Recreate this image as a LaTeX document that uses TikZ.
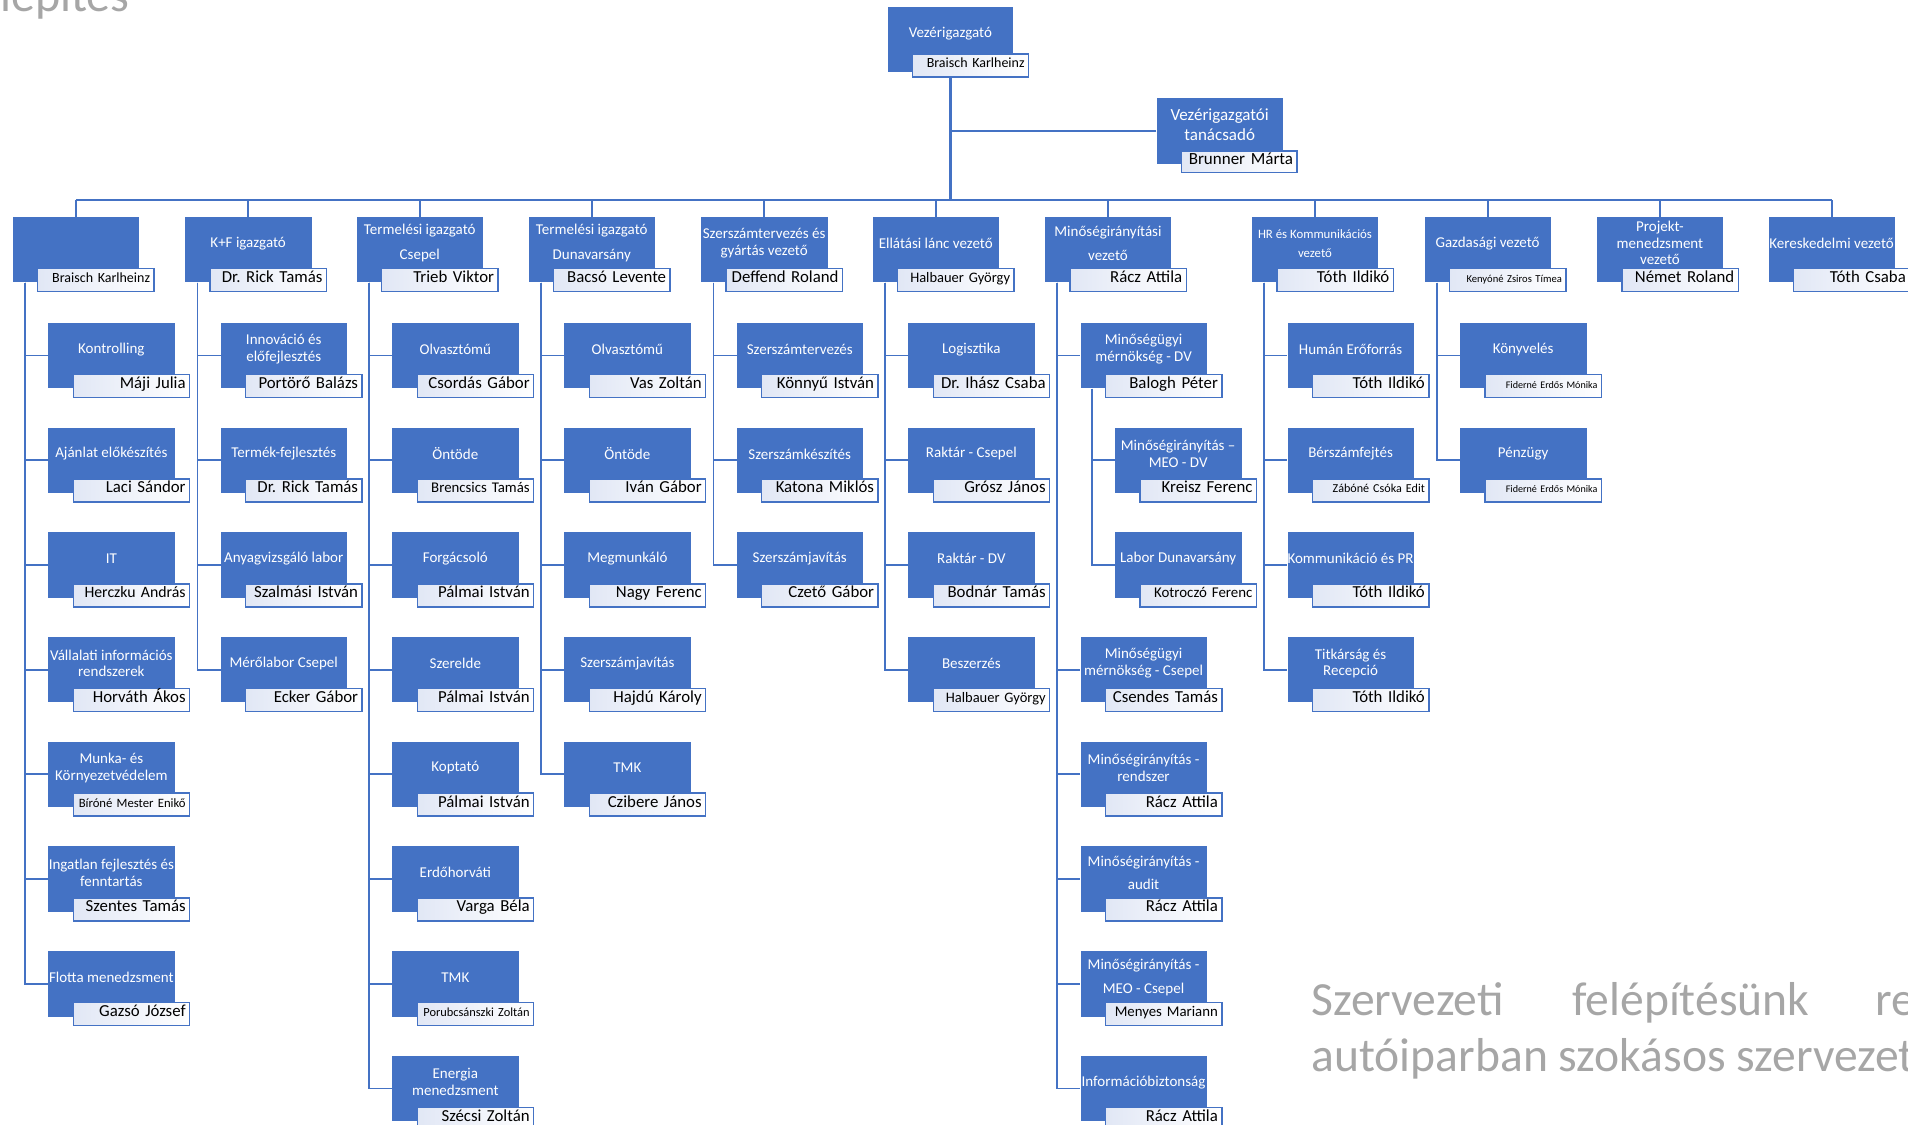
\documentclass[tikz,border=0pt]{standalone}
\usepackage{fontspec}
\setmainfont{Carlito}
\frenchspacing
\usetikzlibrary{backgrounds}
\definecolor{ogblue}{HTML}{4472C4}
\definecolor{lav}{HTML}{E1E7F5}
\definecolor{capgray}{HTML}{A6A6A6}
\tikzset{
  bluebox/.style={fill=ogblue, draw=none, inner sep=0pt, minimum width=126.3pt, minimum height=65.5pt, anchor=north west},
  titletext/.style={text=white, align=center, inner sep=0pt, anchor=center},
  namebox/.style={draw=ogblue, line width=1.5pt, left color=lav, middle color=white, right color=white,
     anchor=north west, minimum height=23pt, text width=108.4pt, inner xsep=4pt, inner ysep=0pt,
     align=right, text height=0.68em, text depth=0.2em, text=black},
  busline/.style={draw=ogblue, line width=2.2pt},
  trunkline/.style={draw=ogblue, line width=3pt},
  branch/.style={draw=ogblue, line width=1.8pt},
  capline/.style={anchor=base west, text=capgray, inner sep=0pt}
}
\newcommand{\orgunit}[7]{%
  \node[bluebox] (#1) at (#2,#3) {};
  \node[titletext, font=\fontsize{#5}{16.5}\selectfont] (#1-t) at ({#2+63.15},{#3+26.6}) {#4};
  \node[namebox, font=\fontsize{#7}{#7}\selectfont] (#1-n) at ({#2+24.3},{#3+51}) {#6};
}
\begin{document}
\begin{tikzpicture}[x=1pt,y=-1pt]
\useasboundingbox (0,0) rectangle (1908,1124);

% heading fragments
\node[capline, font=\fontsize{48}{50}\selectfont] (hd) at (0,11.7) {lépítés};
\node[capline, font=\fontsize{47.6}{56}\selectfont] (p1) at (1311.3,1015.7) {Szervezeti\hspace{68.6pt}felépítésünk\hspace{66.4pt}re};
\node[capline, font=\fontsize{47.6}{56}\selectfont] (p2) at (1311.3,1071.7) {autóiparban szokásos szervezet};

% top
\node[bluebox, minimum width=125.7pt, minimum height=65pt] (vz) at (887.5,6.7) {};
\node[titletext, font=\fontsize{15}{16.5}\selectfont] (vz-t) at (950.4,33.3) {Vezérigazgató};
\node[namebox, minimum height=22.7pt, text width=108pt, font=\fontsize{14}{14}\selectfont] (vz-n) at (911.8,53.3) {Braisch Karlheinz};

% advisor
\node[bluebox, minimum width=126.6pt, minimum height=65.6pt] (adv) at (1156.4,97.7) {};
\node[titletext, font=\fontsize{17}{19.7}\selectfont] (adv-t) at (1219.7,124.8) {Vezérigazgatói\\tanácsadó};
\node[namebox, minimum height=21.7pt, text width=107.6pt, font=\fontsize{17}{17}\selectfont] (adv-n) at (1180.7,150) {Brunner Márta};

\coordinate (bus) at (949.5,200);

% level 2
\orgunit{c1}{12.6}{216.7}{}{15}{Braisch Karlheinz}{14}
\orgunit{c2}{185}{216.7}{K+F igazgató}{15}{Dr. Rick Tamás}{16.8}
\orgunit{c3}{356.6}{216.7}{Termelési igazgató\\[8.2pt]Csepel}{15}{Trieb Viktor}{16.8}
\orgunit{c4}{528.6}{216.7}{Termelési igazgató\\[8.2pt]Dunavarsány}{15}{Bacsó Levente}{16.8}
\orgunit{c5}{701}{216.7}{Szerszámtervezés és\\gyártás vezető}{15}{Deffend Roland}{16.8}
\orgunit{c6}{872.6}{216.7}{Ellátási lánc vezető}{15}{Halbauer György}{14.5}
\orgunit{c7}{1044.8}{216.7}{Minőségirányítási\\[7.5pt]vezető}{15}{Rácz Attila}{16.8}
\orgunit{c8}{1251.8}{216.7}{HR és Kommunikációs\\[2.5pt]vezető}{12.8}{Tóth Ildikó}{16.8}
\orgunit{c9}{1424.4}{216.7}{Gazdasági vezető}{15}{Kenyóné Zsiros Tímea}{10.6}
\orgunit{c10}{1596.8}{216.7}{Projekt-\\menedzsment\\vezető}{15}{Német Roland}{16.8}
\orgunit{c11}{1768.4}{216.7}{Kereskedelmi vezető}{15}{Tóth Csaba}{16.8}

% column 1
\orgunit{a1}{48.2}{322.6}{Kontrolling}{15}{Máji Julia}{16.8}
\orgunit{a2}{48.2}{427.3}{Ajánlat előkészítés}{15}{Laci Sándor}{16.8}
\orgunit{a3}{48.2}{532}{IT}{15}{Herczku András}{15.8}
\orgunit{a4}{48.2}{636.7}{Vállalati információs\\rendszerek}{15}{Horváth Ákos}{16.8}
\orgunit{a5}{48.2}{741.4}{Munka- és\\Környezetvédelem}{15}{Bíróné Mester Enikő}{12.7}
\orgunit{a6}{48.2}{846.1}{Ingatlan fejlesztés és\\fenntartás}{15}{Szentes Tamás}{16.8}
\orgunit{a7}{48.2}{950.8}{Flotta menedzsment}{15}{Gazsó József}{16.8}

% column 2
\orgunit{b1}{220.6}{322.6}{Innováció és\\előfejlesztés}{15}{Portörő Balázs}{16.8}
\orgunit{b2}{220.6}{427.3}{Termék-fejlesztés}{15}{Dr. Rick Tamás}{16.8}
\orgunit{b3}{220.6}{532}{Anyagvizsgáló labor}{15}{Szalmási István}{16.8}
\orgunit{b4}{220.6}{636.7}{Mérőlabor Csepel}{15}{Ecker Gábor}{16.8}

% column 3
\orgunit{d1}{392.2}{322.6}{Olvasztómű}{15}{Csordás Gábor}{16.8}
\orgunit{d2}{392.2}{427.3}{Öntöde}{15}{Brencsics Tamás}{14.8}
\orgunit{d3}{392.2}{532}{Forgácsoló}{15}{Pálmai István}{16.8}
\orgunit{d4}{392.2}{636.7}{Szerelde}{15}{Pálmai István}{16.8}
\orgunit{d5}{392.2}{741.4}{Koptató}{15}{Pálmai István}{16.8}
\orgunit{d6}{392.2}{846.1}{Erdőhorváti}{15}{Varga Béla}{16.8}
\orgunit{d7}{392.2}{950.8}{TMK}{15}{Porubcsánszki Zoltán}{12.4}
\orgunit{d8}{392.2}{1055.5}{Energia\\menedzsment}{15}{Szécsi Zoltán}{16.8}

% column 4
\orgunit{e1}{564.2}{322.6}{Olvasztómű}{15}{Vas Zoltán}{16.8}
\orgunit{e2}{564.2}{427.3}{Öntöde}{15}{Iván Gábor}{16.8}
\orgunit{e3}{564.2}{532}{Megmunkáló}{15}{Nagy Ferenc}{16.8}
\orgunit{e4}{564.2}{636.7}{Szerszámjavítás}{15}{Hajdú Károly}{16.8}
\orgunit{e5}{564.2}{741.4}{TMK}{15}{Czibere János}{16.8}

% column 5
\orgunit{f1}{736.6}{322.6}{Szerszámtervezés}{15}{Könnyű István}{16.8}
\orgunit{f2}{736.6}{427.3}{Szerszámkészítés}{15}{Katona Miklós}{16.8}
\orgunit{f3}{736.6}{532}{Szerszámjavítás}{15}{Czető Gábor}{16.8}

% column 6
\orgunit{g1}{908.2}{322.6}{Logisztika}{15}{Dr. Ihász Csaba}{16.8}
\orgunit{g2}{908.2}{427.3}{Raktár - Csepel}{15}{Grósz János}{16.8}
\orgunit{g3}{908.2}{532}{Raktár - DV}{15}{Bodnár Tamás}{16.8}
\orgunit{g4}{908.2}{636.7}{Beszerzés}{15}{Halbauer György}{14.5}

% column 7
\orgunit{h1}{1080.4}{322.6}{Minőségügyi\\mérnökség - DV}{15}{Balogh Péter}{16.8}
\orgunit{h2}{1115}{427.3}{Minőségirányítás --\\MEO - DV}{15}{Kreisz Ferenc}{16.8}
\orgunit{h3}{1115}{532}{Labor Dunavarsány}{15}{Kotroczó Ferenc}{14.9}
\orgunit{h4}{1080.4}{636.7}{Minőségügyi\\mérnökség - Csepel}{15}{Csendes Tamás}{16.8}
\orgunit{h5}{1080.4}{741.4}{Minőségirányítás -\\rendszer}{15}{Rácz Attila}{16.8}
\orgunit{h6}{1080.4}{846.1}{Minőségirányítás -\\[6.8pt]audit}{15}{Rácz Attila}{16.8}
\orgunit{h7}{1080.4}{950.8}{Minőségirányítás -\\[7.2pt]MEO - Csepel}{15}{Menyes Mariann}{14.8}
\orgunit{h8}{1080.4}{1055.5}{Információbiztonság}{15}{Rácz Attila}{16.8}

% column 8
\orgunit{i1}{1287.4}{322.6}{Humán Erőforrás}{15}{Tóth Ildikó}{16.8}
\orgunit{i2}{1287.4}{427.3}{Bérszámfejtés}{15}{Zábóné Csóka Edit}{12.1}
\orgunit{i3}{1287.4}{532}{Kommunikáció és PR}{15}{Tóth Ildikó}{16.8}
\orgunit{i4}{1287.4}{636.7}{Titkárság és\\Recepció}{15}{Tóth Ildikó}{16.8}

% column 9
\orgunit{j1}{1460}{322.6}{Könyvelés}{15}{Fiderné Erdős Mónika}{10.1}
\orgunit{j2}{1460}{427.3}{Pénzügy}{15}{Fiderné Erdős Mónika}{10.1}

\begin{scope}[on background layer]
  \draw[trunkline] (vz.south) -- (vz.south |- bus);
  \draw[busline] (c1.north |- bus) -- (c11.north |- bus);
  \foreach \c in {c1,c2,c3,c4,c5,c6,c7,c8,c9,c10,c11}
    \draw[busline] (\c.north) -- (\c.north |- bus);
  \draw[busline] (adv.west) -- (adv.west -| vz.south);
  \foreach \p/\k in {c1/a1,c1/a2,c1/a3,c1/a4,c1/a5,c1/a6,c1/a7,
                     c2/b1,c2/b2,c2/b3,c2/b4,
                     c3/d1,c3/d2,c3/d3,c3/d4,c3/d5,c3/d6,c3/d7,c3/d8,
                     c4/e1,c4/e2,c4/e3,c4/e4,c4/e5,
                     c5/f1,c5/f2,c5/f3,
                     c6/g1,c6/g2,c6/g3,c6/g4,
                     c7/h1,c7/h4,c7/h5,c7/h6,c7/h7,c7/h8,
                     c8/i1,c8/i2,c8/i3,c8/i4,
                     c9/j1,c9/j2}
    \draw[branch] ([xshift=12.5pt]\p.south west) |- (\k.west);
  \foreach \k in {h2,h3}
    \draw[branch] ([xshift=11.3pt]h1.south west) |- (\k.west);
\end{scope}
\end{tikzpicture}
\end{document}
